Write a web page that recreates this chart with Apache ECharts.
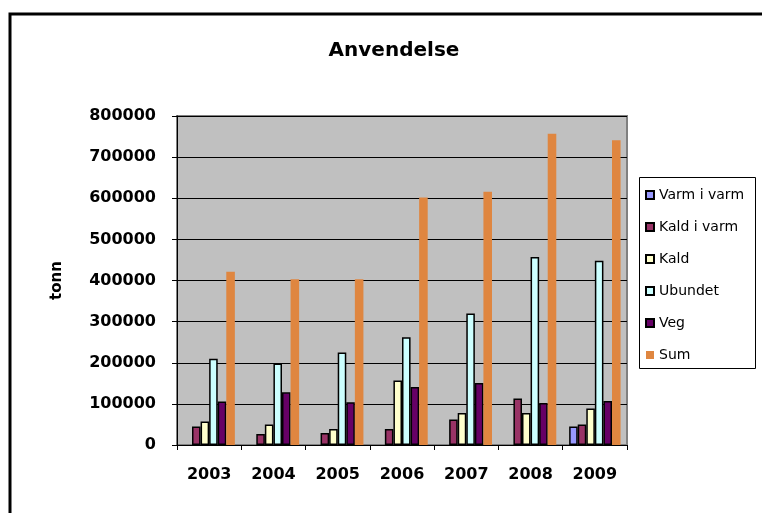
<!DOCTYPE html>
<html>
<head>
<meta charset="utf-8">
<script src="https://cdn.jsdelivr.net/npm/echarts@6/dist/echarts.min.js"></script>
<style>
  html, body { margin: 0; padding: 0; background: #fff; }
  #anvendelse { width: 762px; height: 513px; }
</style>
</head>
<body>
<div id="anvendelse"></div>
<script>
// values (tonn)
const years = ['2003', '2004', '2005', '2006', '2007', '2008', '2009']
const varmIVarm = [null, null, null, null, null, null, 45000]
const kaldIVarm = [45000, 27000, 29000, 39000, 62000, 113000, 50000]
const kald = [57000, 50000, 39000, 157000, 78000, 78000, 89000]
const ubundet = [210000, 198000, 225000, 262000, 320000, 457000, 448000]
const veg = [106000, 128000, 104000, 141000, 151000, 102000, 107000]
const sum = [421000, 403000, 403000, 602000, 616000, 757000, 741000]
const yTicks = [0, 100000, 200000, 300000, 400000, 500000, 600000, 700000, 800000]

const boldFont = 'DejaVu Sans'

function barSeries (name, data, color, outlined) {
  return {
    name: name,
    type: 'bar',
    data: data,
    barGap: 0,
    barCategoryGap: '20%',
    itemStyle: {
      color: color,
      borderColor: outlined ? '#000' : color,
      borderWidth: outlined ? 1.5 : 0
    }
  }
}

const myChart = echarts.init(document.getElementById('anvendelse'))
myChart.setOption({
  backgroundColor: '#fff',
  animation: false,
  title: {
    text: 'Anvendelse',
    left: 389,
    top: 36,
    textAlign: 'center',
    textStyle: { fontFamily: boldFont, fontWeight: 'bold', fontSize: 20, color: '#000' }
  },
  graphic: [
    {
      // outer chart frame
      type: 'rect',
      z: -1,
      shape: { x: 10, y: 14, width: 800, height: 600 },
      style: { fill: 'none', stroke: '#000', lineWidth: 3 }
    },
    {
      // legend frame
      type: 'rect',
      z: 0,
      shape: { x: 639.5, y: 177.5, width: 116, height: 191 },
      style: { fill: '#fff', stroke: '#000', lineWidth: 1 }
    }
  ],
  legend: {
    orient: 'vertical',
    left: 645,
    top: 187,
    padding: 0,
    itemWidth: 8,
    itemHeight: 8,
    itemGap: 16,
    icon: 'rect',
    z: 5,
    textStyle: { fontFamily: 'DejaVu Sans', fontSize: 14, color: '#000', lineHeight: 16, padding: [0, 0, 0, 0] },
    data: ['Varm i varm', 'Kald i varm', 'Kald', 'Ubundet', 'Veg', 'Sum']
  },
  grid: {
    left: 177,
    right: 135,
    top: 116,
    bottom: 68,
    show: true,
    backgroundColor: '#C0C0C0',
    borderColor: '#808080',
    borderWidth: 2
  },
  xAxis: {
    type: 'category',
    data: years,
    axisLine: { lineStyle: { color: '#000', width: 1 } },
    axisTick: { show: true, length: 5, lineStyle: { color: '#000' } },
    axisLabel: {
      interval: 0,
      margin: 22,
      fontFamily: boldFont,
      fontWeight: 'bold',
      fontSize: 16,
      color: '#000'
    }
  },
  yAxis: {
    type: 'value',
    name: 'tonn',
    nameLocation: 'middle',
    nameRotate: 90,
    nameGap: 112,
    nameTextStyle: { fontFamily: boldFont, fontWeight: 'bold', fontSize: 15, color: '#000' },
    min: yTicks[0],
    max: yTicks[yTicks.length - 1],
    interval: yTicks[1] - yTicks[0],
    axisLine: { show: true, lineStyle: { color: '#000', width: 1 } },
    axisTick: { show: true, length: 5, lineStyle: { color: '#000' } },
    axisLabel: {
      margin: 21,
      fontFamily: boldFont,
      fontWeight: 'bold',
      fontSize: 16,
      color: '#000',
      formatter: (value) => String(value)
    },
    splitLine: { show: true, lineStyle: { color: '#000', width: 1 } }
  },
  series: [
    barSeries('Varm i varm', varmIVarm, '#9999FF', true),
    barSeries('Kald i varm', kaldIVarm, '#993366', true),
    barSeries('Kald', kald, '#FFFFCC', true),
    barSeries('Ubundet', ubundet, '#CCFFFF', true),
    barSeries('Veg', veg, '#660066', true),
    barSeries('Sum', sum, '#DF8640', false)
  ]
})
</script>
</body>
</html>
